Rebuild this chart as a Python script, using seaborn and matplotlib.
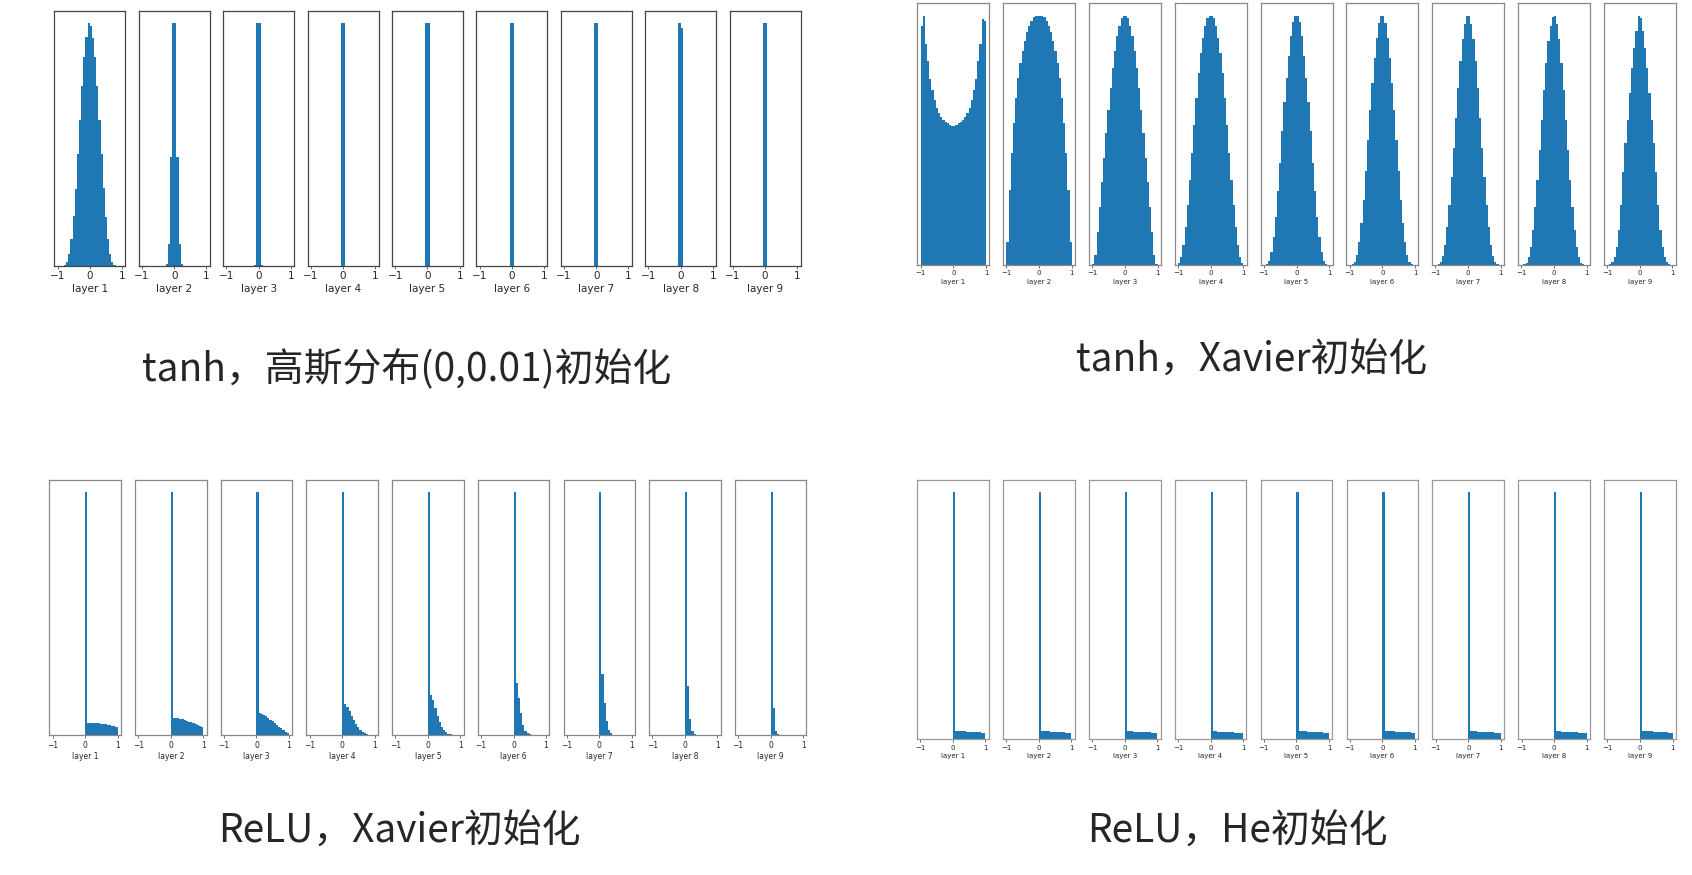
import numpy as np
import matplotlib
matplotlib.use("Agg")
import matplotlib.pyplot as plt
import seaborn as sns

# 30 bins over (-1, 1), heights as % of the tallest bin in each small plot
bin_edges = np.linspace(-1, 1, 31)
bin_centers = (bin_edges[:-1] + bin_edges[1:]) / 2
layer_names = ['layer %d' % i for i in range(1, 10)]

# tanh, gaussian(0, 0.01) init
tanh_gauss_1 = [0, 0, 0, 0.3, 1.6, 5, 11, 20.5, 31.5, 46, 60, 74, 86, 94.5, 100,
                99, 94, 86, 74, 60, 46, 32, 20, 11, 5, 1.6, 0.3, 0, 0, 0]
tanh_gauss_2 = [0] * 11 + [0.5, 9, 45, 100, 100, 45, 9, 0.5] + [0] * 11
tanh_gauss_3 = [0] * 13 + [0.3, 100, 100, 0.3] + [0] * 13
tanh_gauss_4 = [0] * 14 + [100, 100] + [0] * 14
tanh_gauss_5 = [0] * 14 + [100, 100] + [0] * 14
tanh_gauss_6 = [0] * 14 + [100, 100] + [0] * 14
tanh_gauss_7 = [0] * 14 + [100, 100] + [0] * 14
tanh_gauss_8 = [0] * 14 + [100, 98] + [0] * 14
tanh_gauss_9 = [0] * 14 + [100, 100] + [0] * 14

# tanh, Xavier init
tanh_xavier_1 = [96, 100, 88.7, 82, 74.7, 70, 66, 62.8, 60.8, 59.2, 58, 57.3, 56.8, 56.2, 55.7,
                 55.7, 56.2, 56.8, 57.3, 58, 59.4, 61, 63, 66, 70, 74.7, 82, 88.7, 98.7, 98]
tanh_xavier_2 = [9, 30, 45, 57, 67, 75, 81, 86, 90, 93.5, 96, 98, 99.3, 100, 100,
                 100, 100, 99.3, 98, 96, 93.5, 90, 86, 81, 75, 67, 57, 45, 30, 9]
tanh_xavier_3 = [0.3, 4, 13, 23, 33, 43, 53, 62, 71, 79, 86, 92, 96, 99, 100,
                 100, 99, 96, 92, 86, 79, 71, 62, 53, 43, 33, 23, 13, 4, 0.3]
tanh_xavier_4 = [0.5, 3, 8, 15, 24, 34, 45, 56, 67, 77, 85, 91, 96, 99, 100,
                 100, 99, 96, 91, 85, 77, 67, 56, 45, 34, 24, 15, 8, 3, 0.5]
tanh_xavier_5 = [0, 0.3, 1.6, 5, 11, 19, 29.5, 41, 53.5, 65.4, 75, 84, 92, 97.3, 100,
                 100, 97.3, 92, 84, 75, 65.4, 53.5, 41, 29.5, 19, 11, 5, 1.6, 0.3, 0]
tanh_xavier_6 = [0, 0.2, 1.2, 4, 9, 16.5, 26, 37.5, 50, 62, 73, 83, 91, 97, 100,
                 100, 97, 91, 83, 73, 62, 50, 37.5, 26, 16.5, 9, 4, 1.2, 0.2, 0]
tanh_xavier_7 = [0, 0.1, 0.9, 3.3, 8, 15, 24, 35, 47, 59, 71, 82, 90.5, 96.5, 100,
                 100, 96.5, 90.5, 82, 71, 59, 47, 35, 24, 15, 8, 3.3, 0.9, 0.1, 0]
tanh_xavier_8 = [0, 0.1, 0.8, 3, 7, 14, 23, 34, 46, 58, 70, 81, 90, 96, 99.5,
                 100, 96.5, 90.5, 81, 70, 58, 46, 34, 23, 14, 7, 3, 0.8, 0.1, 0]
tanh_xavier_9 = [0, 0.1, 1, 3, 7, 14, 24, 37, 49, 58, 69, 79, 87, 94, 100,
                 99, 94, 87, 79, 69, 58, 49, 37, 24, 14, 7, 3, 1, 0.1, 0]

# ReLU: bins left of 0 are empty, bin [0, 1/15) holds the spike, then the tail
relu_spike = 100
relu_xavier_tail_1 = [5.1, 5.1, 5.0, 5.0, 4.9, 4.8, 4.7, 4.6, 4.5, 4.3, 4.1, 3.9, 3.6, 3.3]
relu_xavier_tail_2 = [7.1, 7.0, 6.8, 6.6, 6.4, 6.1, 5.8, 5.5, 5.2, 4.8, 4.5, 4.1, 3.7, 3.2]
relu_xavier_tail_3 = [9.2, 8.8, 8.3, 7.7, 7.0, 6.3, 5.6, 4.9, 4.1, 3.4, 2.7, 2.0, 1.3, 0.7]
relu_xavier_tail_4 = [12.6, 11.7, 9.9, 7.8, 6.2, 4.4, 3.2, 2.1, 1.2, 0.7, 0.3, 0.15, 0.05, 0]
relu_xavier_tail_5 = [16.5, 14.4, 11, 8, 5.5, 3.4, 2, 1.1, 0.5, 0.25, 0.1, 0, 0, 0]
relu_xavier_tail_6 = [21.3, 15.4, 8.9, 4.1, 1.8, 0.7, 0.3, 0.1, 0, 0, 0, 0, 0, 0]
relu_xavier_tail_7 = [25, 13, 5.8, 1.9, 0.7, 0.2, 0, 0, 0, 0, 0, 0, 0, 0]
relu_xavier_tail_8 = [20, 6.5, 1.6, 0.4, 0.1, 0, 0, 0, 0, 0, 0, 0, 0, 0]
relu_xavier_tail_9 = [11.3, 1.8, 0.3, 0, 0, 0, 0, 0, 0, 0, 0, 0, 0, 0]

relu_he_tail_1 = [3.3, 3.2, 3.2, 3.1, 3.1, 3.0, 3.0, 2.9, 2.9, 2.8, 2.8, 2.7, 2.6, 2.5]
relu_he_tail_2 = [3.2, 3.2, 3.1, 3.1, 3.0, 3.0, 2.9, 2.9, 2.8, 2.8, 2.7, 2.6, 2.6, 2.5]
relu_he_tail_3 = [3.2, 3.1, 3.1, 3.0, 3.0, 2.9, 2.9, 2.8, 2.8, 2.7, 2.7, 2.6, 2.5, 2.4]
relu_he_tail_4 = [3.1, 3.1, 3.0, 3.0, 2.9, 2.9, 2.8, 2.8, 2.7, 2.7, 2.6, 2.5, 2.5, 2.4]
relu_he_tail_5 = [3.2, 3.2, 3.1, 3.1, 3.0, 3.0, 2.9, 2.9, 2.8, 2.8, 2.7, 2.6, 2.6, 2.5]
relu_he_tail_6 = [3.3, 3.2, 3.2, 3.1, 3.1, 3.0, 3.0, 2.9, 2.9, 2.8, 2.8, 2.7, 2.6, 2.5]
relu_he_tail_7 = [3.2, 3.1, 3.1, 3.0, 3.0, 2.9, 2.9, 2.8, 2.8, 2.7, 2.7, 2.6, 2.5, 2.4]
relu_he_tail_8 = [3.1, 3.1, 3.0, 3.0, 2.9, 2.9, 2.8, 2.8, 2.7, 2.7, 2.6, 2.5, 2.5, 2.4]
relu_he_tail_9 = [3.3, 3.2, 3.2, 3.1, 3.1, 3.0, 3.0, 2.9, 2.9, 2.8, 2.8, 2.7, 2.6, 2.5]

titles = ['tanh，高斯分布(0,0.01)初始化', 'tanh，Xavier初始化',
          'ReLU，Xavier初始化', 'ReLU，He初始化']


def relu_hist(tail):
    return [0] * 15 + [relu_spike] + tail


panel_data = [
    [tanh_gauss_1, tanh_gauss_2, tanh_gauss_3, tanh_gauss_4, tanh_gauss_5,
     tanh_gauss_6, tanh_gauss_7, tanh_gauss_8, tanh_gauss_9],
    [tanh_xavier_1, tanh_xavier_2, tanh_xavier_3, tanh_xavier_4, tanh_xavier_5,
     tanh_xavier_6, tanh_xavier_7, tanh_xavier_8, tanh_xavier_9],
    [relu_hist(t) for t in [relu_xavier_tail_1, relu_xavier_tail_2, relu_xavier_tail_3,
                            relu_xavier_tail_4, relu_xavier_tail_5, relu_xavier_tail_6,
                            relu_xavier_tail_7, relu_xavier_tail_8, relu_xavier_tail_9]],
    [relu_hist(t) for t in [relu_he_tail_1, relu_he_tail_2, relu_he_tail_3,
                            relu_he_tail_4, relu_he_tail_5, relu_he_tail_6,
                            relu_he_tail_7, relu_he_tail_8, relu_he_tail_9]],
]

# pixel layout of the four screenshots: first left, pitch, width, top, bottom, font size, frame colour
W, H = 1692, 875
panel_layout = [
    dict(x0=54.3, pitch=84.4, w=71, top=11.3, bottom=265.7, fs=7.5, edge='#444444'),
    dict(x0=917.3, pitch=85.8, w=72, top=3.3, bottom=264.5, fs=5, edge='#888888'),
    dict(x0=49.3, pitch=85.7, w=71.5, top=480, bottom=735, fs=5.5, edge='#888888'),
    dict(x0=917, pitch=85.9, w=71.7, top=480, bottom=739, fs=5, edge='#999999'),
]
title_pos = [(407, 370), (1252, 361), (399, 832), (1237, 832)]

sns.set_style('white')
plt.rcParams['font.family'] = ['DejaVu Sans']

fig = plt.figure(figsize=(W / 100, H / 100), dpi=100)

for data, lay in zip(panel_data, panel_layout):
    for i, heights in enumerate(data):
        left = lay['x0'] + i * lay['pitch']
        ax = fig.add_axes([left / W, 1 - lay['bottom'] / H, lay['w'] / W,
                           (lay['bottom'] - lay['top']) / H])
        sns.histplot(x=bin_centers, weights=heights, bins=30, binrange=(-1, 1),
                     color='#1f77b4', alpha=1, linewidth=0, ax=ax)
        ax.set_xlim(-1.1, 1.1)
        ax.set_ylim(0, 105)
        ax.set_yticks([])
        ax.set_ylabel('')
        ax.set_xticks([-1, 0, 1])
        ax.set_xlabel(layer_names[i], fontsize=lay['fs'], labelpad=2)
        ax.tick_params(axis='x', labelsize=lay['fs'], length=2.5, width=0.6,
                       pad=1.5, bottom=True, color='#555555')
        for sp in ax.spines.values():
            sp.set_color(lay['edge'])
            sp.set_linewidth(0.9)

for (tx, ty), t in zip(title_pos, titles):
    fig.text(tx / W, 1 - ty / H, t, ha='center', va='center', fontsize=28,
             family=['Noto Sans CJK SC', 'DejaVu Sans'])

fig.savefig('out.png', dpi=100)
